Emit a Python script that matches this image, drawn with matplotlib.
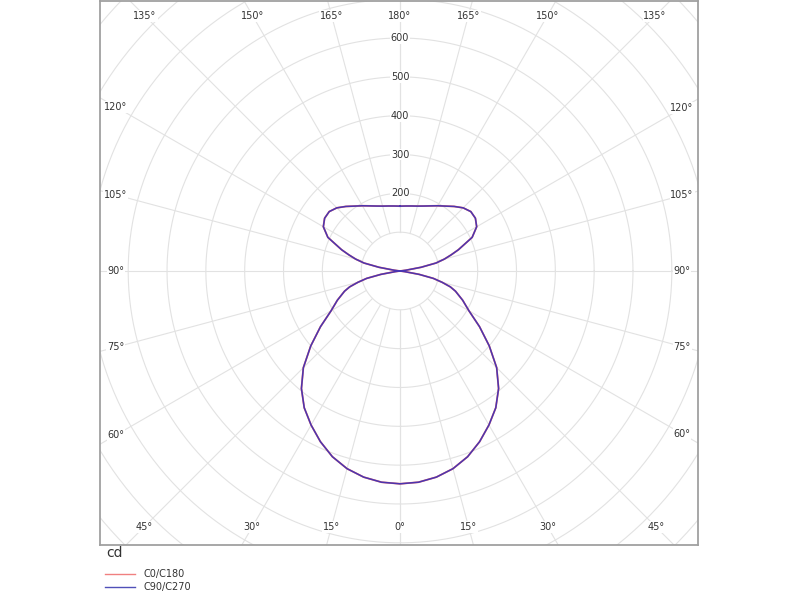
import numpy as np
import matplotlib.pyplot as plt
from matplotlib.lines import Line2D

# luminous intensity (cd) per gamma angle, same for C0/C180 and C90/C270
gamma = [0, 5, 10, 15, 20, 25, 30, 35, 40, 45, 50, 55, 60, 65, 70, 72.5, 75, 77.5,
         80, 82.5, 85, 90, 95, 97.5, 100, 102.5, 105, 107.5, 110, 115, 120, 125, 130,
         135, 140, 145, 150, 155, 160, 165, 170, 175, 180]
i_c0_c180 = [548, 546, 539, 527, 509, 485, 458, 430, 395, 352, 300, 250, 205, 178, 152,
             136, 112, 88, 50, 12, 0, 0, 0, 15, 55, 95, 118, 138, 160, 205, 228, 237,
             238, 230, 217, 204, 194, 185, 178, 173, 170, 168, 167]
i_c90_c270 = list(i_c0_c180)

ring_values = [100, 200, 300, 400, 500, 600, 700, 800, 900, 1000, 1100]
ring_labels = [200, 300, 400, 500, 600]
angle_steps = list(range(0, 181, 15))

fig = plt.figure(figsize=(8, 6), dpi=100)
ax = fig.add_axes([100 / 800, 55 / 600, 598 / 800, 544 / 600])

xmin, xmax = -772.6, 767.4
ymin, ymax = -705.6, 695.3
ax.set_xlim(xmin, xmax)
ax.set_ylim(ymin, ymax)
ax.set_xticks([])
ax.set_yticks([])
for sp in ax.spines.values():
    sp.set_color('#a0a0a0')
    sp.set_linewidth(1.3)

grid_col = '#e2e2e2'
t = np.linspace(0, 2 * np.pi, 400)
for r in ring_values:
    ax.plot(r * np.cos(t), r * np.sin(t), color=grid_col, lw=0.8, zorder=1)

for g in angle_steps:
    a = np.radians(g)
    for s in (1, -1):
        x0, y0 = s * 100 * np.sin(a), -100 * np.cos(a)
        x1, y1 = s * 1200 * np.sin(a), -1200 * np.cos(a)
        ax.plot([x0, x1], [y0, y1], color=grid_col, lw=0.8, zorder=1)

# angle labels placed where the radial lines meet an inset box
in_top, in_side, in_bot = 38.6, 41.2, 46.4
for g in angle_steps:
    a = np.radians(g)
    for s in ((1, -1) if 0 < g < 180 else (1,)):
        dx, dy = s * np.sin(a), -np.cos(a)
        ts = []
        if dx > 1e-9:
            ts.append((xmax - in_side) / dx)
        if dx < -1e-9:
            ts.append((xmin + in_side) / dx)
        if dy > 1e-9:
            ts.append((ymax - in_top) / dy)
        if dy < -1e-9:
            ts.append((ymin + in_bot) / dy)
        tt = min(ts)
        ax.text(tt * dx, tt * dy, f'{g}°', fontsize=7, color='#333333',
                ha='center', va='center', zorder=3,
                bbox=dict(facecolor='white', edgecolor='none', pad=0.6))

for v in ring_labels:
    ax.text(0, v, str(v), fontsize=7, color='#333333', ha='center', va='center',
            zorder=3, bbox=dict(facecolor='white', edgecolor='none', pad=0.6))

# curves: right half C0 / C90, left half C180 / C270
g_rad = np.radians(gamma)
for vals, col, lw in ((i_c0_c180, '#e87070', 1.3), (i_c90_c270, '#4b35b0', 1.1)):
    v = np.array(vals, dtype=float)
    xs = np.concatenate([-(v * np.sin(g_rad))[::-1], v * np.sin(g_rad)])
    ys = np.concatenate([-(v * np.cos(g_rad))[::-1], -v * np.cos(g_rad)])
    ax.plot(xs, ys, color=col, lw=lw, zorder=2)

fig.text(106 / 800, 1 - 553 / 600, 'cd', fontsize=10, color='#333333', va='center')
fig.add_artist(Line2D([105 / 800, 135 / 800], [1 - 574 / 600] * 2, color='#f08080', lw=1))
fig.add_artist(Line2D([105 / 800, 135 / 800], [1 - 587 / 600] * 2, color='#5050b8', lw=1))
fig.text(144 / 800, 1 - 574 / 600, 'C0/C180', fontsize=7, color='#333333', va='center')
fig.text(144 / 800, 1 - 587 / 600, 'C90/C270', fontsize=7, color='#333333', va='center')

fig.savefig('out.png', dpi=100)
